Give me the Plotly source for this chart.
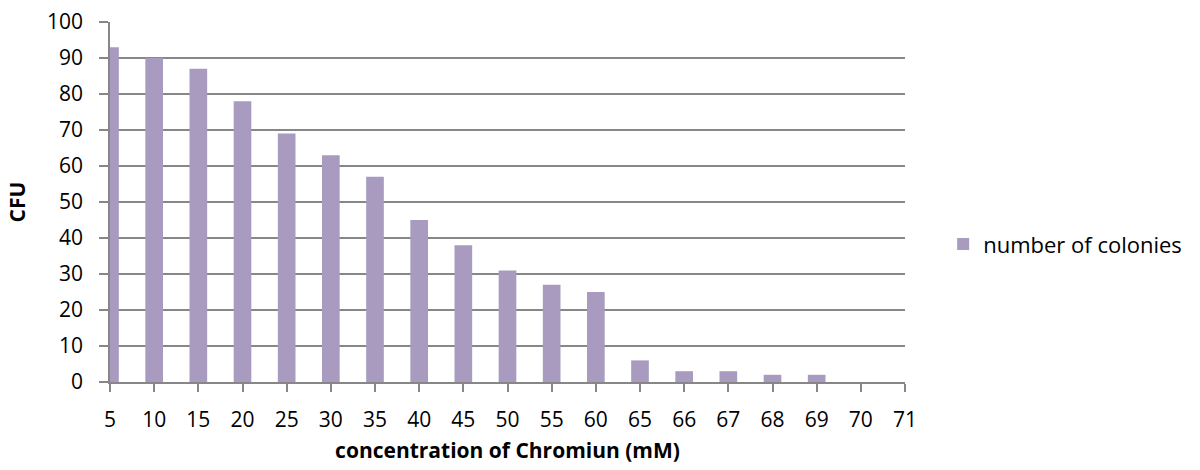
import plotly.graph_objects as go

# Chromium concentration (mM) and colony counts
concentrations = ["5", "10", "15", "20", "25", "30", "35", "40", "45", "50",
                  "55", "60", "65", "66", "67", "68", "69", "70", "71"]
colonies = [93, 90, 87, 78, 69, 63, 57, 45, 38, 31, 27, 25, 6, 3, 3, 2, 2, 0, 0]

FONT = "'Open Sans', sans-serif"
GRID = "#878787"
BAR = "#A89BBF"

fig = go.Figure()
fig.add_trace(go.Bar(
    x=concentrations,
    y=colonies,
    name="number of colonies",
    marker=dict(color=BAR, line=dict(width=0)),
))

fig.update_layout(
    width=1200,
    height=470,
    margin=dict(l=110, r=295, t=22, b=88),
    paper_bgcolor="white",
    plot_bgcolor="white",
    bargap=0.6,
    font=dict(family=FONT, size=21, color="black"),
    showlegend=True,
    legend=dict(
        x=1.048, y=0.383, xanchor="left", yanchor="middle",
        font=dict(family=FONT, size=22, color="black"),
        bgcolor="rgba(0,0,0,0)",
    ),
)

fig.update_xaxes(
    type="category",
    range=[0, len(concentrations) - 1],
    automargin=False,
    showgrid=False,
    showline=True, linecolor=GRID, linewidth=1.5,
    ticks="outside", ticklen=8, tickcolor=GRID, tickwidth=1.5,
    tickson="labels",
    ticklabelstandoff=10,
    tickfont=dict(family=FONT, size=21),
    title=dict(text="<b>concentration of Chromiun (mM)</b>",
               font=dict(family=FONT, size=21), standoff=11),
    zeroline=False,
)

fig.update_yaxes(
    range=[0, 100],
    dtick=10,
    automargin=False,
    showgrid=True, gridcolor=GRID, gridwidth=1.5,
    showline=True, linecolor=GRID, linewidth=1.5,
    ticks="outside", ticklen=9, tickcolor=GRID, tickwidth=1.5,
    ticklabelstandoff=12,
    tickfont=dict(family=FONT, size=21),
    title=dict(text="<b>CFU</b>", font=dict(family=FONT, size=21), standoff=16),
    zeroline=False,
)

fig.write_html("out.html")
